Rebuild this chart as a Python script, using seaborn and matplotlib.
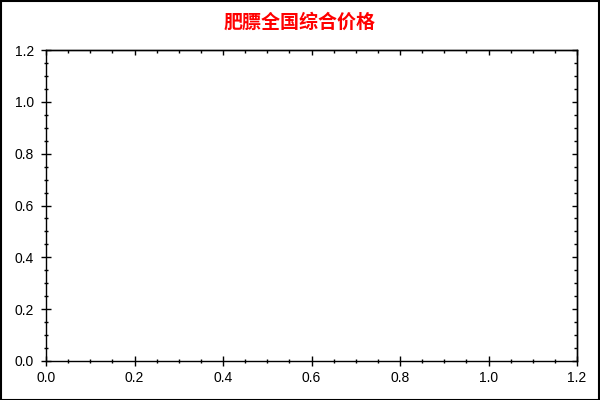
import matplotlib
matplotlib.use("Agg")
import matplotlib.pyplot as plt
import seaborn as sns
from matplotlib.ticker import MultipleLocator, NullFormatter
from matplotlib.patches import Rectangle

title_text = "肥膘全国综合价格"
dates = []
prices = []
x_ticks = [0.0, 0.2, 0.4, 0.6, 0.8, 1.0, 1.2]
y_ticks = [0.0, 0.2, 0.4, 0.6, 0.8, 1.0, 1.2]

sns.set_style("white")
plt.rcParams['font.family'] = ['Liberation Sans', 'Noto Sans CJK SC', 'DejaVu Sans']

fig = plt.figure(figsize=(6, 4), dpi=100)
ax = fig.add_axes([46/600, 1 - 361/400, (577-46)/600, (361-50)/400])

if len(dates):
    sns.lineplot(x=dates, y=prices, ax=ax)

ax.set_xlim(x_ticks[0], x_ticks[-1])
ax.set_ylim(y_ticks[0], y_ticks[-1])
ax.set_xticks(x_ticks)
ax.set_yticks(y_ticks)
ax.set_xticklabels([f"{v:.1f}" for v in x_ticks])
ax.set_yticklabels([f"{v:.1f}" for v in y_ticks])
ax.xaxis.set_minor_locator(MultipleLocator(0.05))
ax.yaxis.set_minor_locator(MultipleLocator(0.05))

for s in ax.spines.values():
    s.set_visible(True)
    s.set_color('black')
    s.set_linewidth(1)

ax.tick_params(axis='both', which='major', direction='inout', length=7.2, width=1,
               color='black', labelsize=10, labelcolor='black',
               bottom=True, left=True, top=False, right=False)
ax.tick_params(axis='both', which='minor', direction='inout', length=3.2, width=1,
               color='black', bottom=True, left=True, top=False, right=False)
ax.tick_params(axis='x', which='major', pad=3.5)
ax.tick_params(axis='y', which='major', pad=5)

# inward-only ticks along the top and right edges
secx = ax.secondary_xaxis('top')
secx.set_xticks(x_ticks)
secx.xaxis.set_minor_locator(MultipleLocator(0.05))
secx.tick_params(which='major', direction='in', length=3.6, width=1, color='black',
                 labeltop=False, top=True)
secx.tick_params(which='minor', direction='in', length=2.2, width=1, color='black', top=True)
secx.xaxis.set_major_formatter(NullFormatter())
secx.spines['top'].set_linewidth(1)

secy = ax.secondary_yaxis('right')
secy.set_yticks(y_ticks)
secy.yaxis.set_minor_locator(MultipleLocator(0.05))
secy.tick_params(which='major', direction='in', length=3.6, width=1, color='black',
                 labelright=False, right=True)
secy.tick_params(which='minor', direction='in', length=2.2, width=1, color='black', right=True)
secy.yaxis.set_major_formatter(NullFormatter())
secy.spines['right'].set_linewidth(1)

fig.text(0.5, 1 - 22/400, title_text, ha='center', va='center', color='red',
         fontsize=13.7, fontweight='bold', family=['Noto Sans CJK SC', 'DejaVu Sans'])

fig.patches.append(Rectangle((0.001, 0.001), 0.997, 0.996, transform=fig.transFigure,
                             fill=False, edgecolor='black', linewidth=1.5))

fig.savefig("out.png", dpi=100)
